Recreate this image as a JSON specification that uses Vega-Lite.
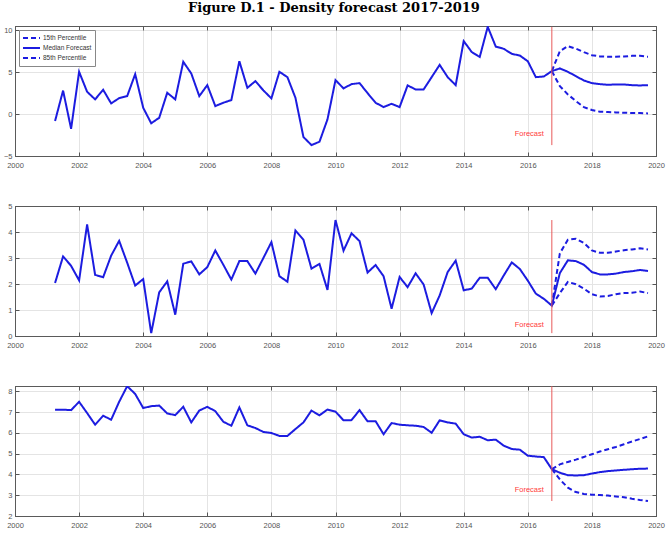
{
  "$schema": "https://vega.github.io/schema/vega-lite/v6.json",
  "padding": {"left": 2, "right": 2, "top": 2, "bottom": 0},
  "background": "white",
  "title": {
    "text": "Figure D.1 - Density forecast 2017-2019",
    "font": "DejaVu Serif",
    "fontSize": 13,
    "fontWeight": "bold",
    "color": "black",
    "anchor": "middle",
    "offset": 10
  },
  "bounds": "flush",
  "spacing": 50,
  "datasets": {
    "panel_top": [
      {"date": 2001.25, "median": -0.83}, {"date": 2001.5, "median": 2.8}, {"date": 2001.75, "median": -1.75},
      {"date": 2002.0, "median": 5.04}, {"date": 2002.25, "median": 2.66}, {"date": 2002.5, "median": 1.75}, {"date": 2002.75, "median": 2.9},
      {"date": 2003.0, "median": 1.27}, {"date": 2003.25, "median": 1.9}, {"date": 2003.5, "median": 2.14}, {"date": 2003.75, "median": 4.76},
      {"date": 2004.0, "median": 0.75}, {"date": 2004.25, "median": -1.1}, {"date": 2004.5, "median": -0.44}, {"date": 2004.75, "median": 2.54},
      {"date": 2005.0, "median": 1.75}, {"date": 2005.25, "median": 6.23}, {"date": 2005.5, "median": 4.84}, {"date": 2005.75, "median": 2.14},
      {"date": 2006.0, "median": 3.45}, {"date": 2006.25, "median": 0.95}, {"date": 2006.5, "median": 1.35}, {"date": 2006.75, "median": 1.67},
      {"date": 2007.0, "median": 6.3}, {"date": 2007.25, "median": 3.13}, {"date": 2007.5, "median": 3.93}, {"date": 2007.75, "median": 2.82},
      {"date": 2008.0, "median": 1.87}, {"date": 2008.25, "median": 5.04}, {"date": 2008.5, "median": 4.4}, {"date": 2008.75, "median": 1.94},
      {"date": 2009.0, "median": -2.74}, {"date": 2009.25, "median": -3.7}, {"date": 2009.5, "median": -3.3}, {"date": 2009.75, "median": -0.63},
      {"date": 2010.0, "median": 4.05}, {"date": 2010.25, "median": 3.06}, {"date": 2010.5, "median": 3.57}, {"date": 2010.75, "median": 3.69},
      {"date": 2011.0, "median": 2.5}, {"date": 2011.25, "median": 1.35}, {"date": 2011.5, "median": 0.83}, {"date": 2011.75, "median": 1.23},
      {"date": 2012.0, "median": 0.83}, {"date": 2012.25, "median": 3.41}, {"date": 2012.5, "median": 2.94}, {"date": 2012.75, "median": 2.94},
      {"date": 2013.0, "median": 4.4}, {"date": 2013.25, "median": 5.87}, {"date": 2013.5, "median": 4.4}, {"date": 2013.75, "median": 3.45},
      {"date": 2014.0, "median": 8.7}, {"date": 2014.25, "median": 7.4}, {"date": 2014.5, "median": 6.8}, {"date": 2014.75, "median": 10.4},
      {"date": 2015.0, "median": 8.05}, {"date": 2015.25, "median": 7.78}, {"date": 2015.5, "median": 7.18}, {"date": 2015.75, "median": 6.98},
      {"date": 2016.0, "median": 6.3}, {"date": 2016.25, "median": 4.4}, {"date": 2016.5, "median": 4.48},
      {"date": 2016.75, "median": 5.12, "lower": 5.12, "upper": 5.12},
      {"date": 2017.0, "median": 5.44, "lower": 3.33, "upper": 7.5},
      {"date": 2017.25, "median": 5.04, "lower": 2.34, "upper": 8.1},
      {"date": 2017.5, "median": 4.52, "lower": 1.55, "upper": 7.8},
      {"date": 2017.75, "median": 4.0, "lower": 0.83, "upper": 7.38},
      {"date": 2018.0, "median": 3.69, "lower": 0.48, "upper": 7.02},
      {"date": 2018.25, "median": 3.57, "lower": 0.28, "upper": 6.87},
      {"date": 2018.5, "median": 3.49, "lower": 0.24, "upper": 6.83},
      {"date": 2018.75, "median": 3.53, "lower": 0.2, "upper": 6.83},
      {"date": 2019.0, "median": 3.53, "lower": 0.16, "upper": 6.87},
      {"date": 2019.25, "median": 3.45, "lower": 0.12, "upper": 6.94},
      {"date": 2019.5, "median": 3.41, "lower": 0.12, "upper": 6.94},
      {"date": 2019.75, "median": 3.45, "lower": 0.08, "upper": 6.83}
    ],
    "panel_mid": [
      {"date": 2001.25, "median": 2.04}, {"date": 2001.5, "median": 3.06}, {"date": 2001.75, "median": 2.7},
      {"date": 2002.0, "median": 2.14}, {"date": 2002.25, "median": 4.29}, {"date": 2002.5, "median": 2.35}, {"date": 2002.75, "median": 2.26},
      {"date": 2003.0, "median": 3.09}, {"date": 2003.25, "median": 3.66}, {"date": 2003.5, "median": 2.82}, {"date": 2003.75, "median": 1.94},
      {"date": 2004.0, "median": 2.19}, {"date": 2004.25, "median": 0.11}, {"date": 2004.5, "median": 1.68}, {"date": 2004.75, "median": 2.1},
      {"date": 2005.0, "median": 0.82}, {"date": 2005.25, "median": 2.78}, {"date": 2005.5, "median": 2.87}, {"date": 2005.75, "median": 2.37},
      {"date": 2006.0, "median": 2.65}, {"date": 2006.25, "median": 3.29}, {"date": 2006.5, "median": 2.74}, {"date": 2006.75, "median": 2.17},
      {"date": 2007.0, "median": 2.88}, {"date": 2007.25, "median": 2.88}, {"date": 2007.5, "median": 2.4}, {"date": 2007.75, "median": 3.0},
      {"date": 2008.0, "median": 3.61}, {"date": 2008.25, "median": 2.3}, {"date": 2008.5, "median": 2.09}, {"date": 2008.75, "median": 4.06},
      {"date": 2009.0, "median": 3.7}, {"date": 2009.25, "median": 2.59}, {"date": 2009.5, "median": 2.77}, {"date": 2009.75, "median": 1.77},
      {"date": 2010.0, "median": 4.46}, {"date": 2010.25, "median": 3.28}, {"date": 2010.5, "median": 3.95}, {"date": 2010.75, "median": 3.65},
      {"date": 2011.0, "median": 2.44}, {"date": 2011.25, "median": 2.73}, {"date": 2011.5, "median": 2.3}, {"date": 2011.75, "median": 1.05},
      {"date": 2012.0, "median": 2.27}, {"date": 2012.25, "median": 1.88}, {"date": 2012.5, "median": 2.41}, {"date": 2012.75, "median": 1.98},
      {"date": 2013.0, "median": 0.88}, {"date": 2013.25, "median": 1.56}, {"date": 2013.5, "median": 2.46}, {"date": 2013.75, "median": 2.9},
      {"date": 2014.0, "median": 1.76}, {"date": 2014.25, "median": 1.82}, {"date": 2014.5, "median": 2.24}, {"date": 2014.75, "median": 2.24},
      {"date": 2015.0, "median": 1.8}, {"date": 2015.25, "median": 2.33}, {"date": 2015.5, "median": 2.83}, {"date": 2015.75, "median": 2.58},
      {"date": 2016.0, "median": 2.13}, {"date": 2016.25, "median": 1.63}, {"date": 2016.5, "median": 1.43},
      {"date": 2016.75, "median": 1.17, "lower": 1.17, "upper": 1.17},
      {"date": 2017.0, "median": 2.42, "lower": 1.65, "upper": 3.18},
      {"date": 2017.25, "median": 2.91, "lower": 2.08, "upper": 3.7},
      {"date": 2017.5, "median": 2.88, "lower": 1.99, "upper": 3.74},
      {"date": 2017.75, "median": 2.74, "lower": 1.82, "upper": 3.58},
      {"date": 2018.0, "median": 2.46, "lower": 1.61, "upper": 3.29},
      {"date": 2018.25, "median": 2.37, "lower": 1.52, "upper": 3.2},
      {"date": 2018.5, "median": 2.37, "lower": 1.54, "upper": 3.2},
      {"date": 2018.75, "median": 2.4, "lower": 1.61, "upper": 3.25},
      {"date": 2019.0, "median": 2.46, "lower": 1.65, "upper": 3.3},
      {"date": 2019.25, "median": 2.49, "lower": 1.66, "upper": 3.33},
      {"date": 2019.5, "median": 2.54, "lower": 1.71, "upper": 3.37},
      {"date": 2019.75, "median": 2.5, "lower": 1.65, "upper": 3.33}
    ],
    "panel_bottom": [
      {"date": 2001.25, "median": 7.11}, {"date": 2001.5, "median": 7.11}, {"date": 2001.75, "median": 7.09},
      {"date": 2002.0, "median": 7.49}, {"date": 2002.25, "median": 6.95}, {"date": 2002.5, "median": 6.39}, {"date": 2002.75, "median": 6.82},
      {"date": 2003.0, "median": 6.63}, {"date": 2003.25, "median": 7.49}, {"date": 2003.5, "median": 8.24}, {"date": 2003.75, "median": 7.87},
      {"date": 2004.0, "median": 7.19}, {"date": 2004.25, "median": 7.28}, {"date": 2004.5, "median": 7.31}, {"date": 2004.75, "median": 6.93},
      {"date": 2005.0, "median": 6.85}, {"date": 2005.25, "median": 7.25}, {"date": 2005.5, "median": 6.5}, {"date": 2005.75, "median": 7.07},
      {"date": 2006.0, "median": 7.25}, {"date": 2006.25, "median": 7.04}, {"date": 2006.5, "median": 6.53}, {"date": 2006.75, "median": 6.34},
      {"date": 2007.0, "median": 7.22}, {"date": 2007.25, "median": 6.36}, {"date": 2007.5, "median": 6.23}, {"date": 2007.75, "median": 6.04},
      {"date": 2008.0, "median": 5.99}, {"date": 2008.25, "median": 5.85}, {"date": 2008.5, "median": 5.85}, {"date": 2008.75, "median": 6.18},
      {"date": 2009.0, "median": 6.5}, {"date": 2009.25, "median": 7.07}, {"date": 2009.5, "median": 6.84}, {"date": 2009.75, "median": 7.12},
      {"date": 2010.0, "median": 7.02}, {"date": 2010.25, "median": 6.6}, {"date": 2010.5, "median": 6.61}, {"date": 2010.75, "median": 7.09},
      {"date": 2011.0, "median": 6.55}, {"date": 2011.25, "median": 6.56}, {"date": 2011.5, "median": 5.93}, {"date": 2011.75, "median": 6.47},
      {"date": 2012.0, "median": 6.39}, {"date": 2012.25, "median": 6.36}, {"date": 2012.5, "median": 6.34}, {"date": 2012.75, "median": 6.28},
      {"date": 2013.0, "median": 6.0}, {"date": 2013.25, "median": 6.6}, {"date": 2013.5, "median": 6.5}, {"date": 2013.75, "median": 6.44},
      {"date": 2014.0, "median": 5.93}, {"date": 2014.25, "median": 5.77}, {"date": 2014.5, "median": 5.81}, {"date": 2014.75, "median": 5.64},
      {"date": 2015.0, "median": 5.67}, {"date": 2015.25, "median": 5.38}, {"date": 2015.5, "median": 5.22}, {"date": 2015.75, "median": 5.19},
      {"date": 2016.0, "median": 4.9}, {"date": 2016.25, "median": 4.86}, {"date": 2016.5, "median": 4.83},
      {"date": 2016.75, "median": 4.25, "lower": 4.25, "upper": 4.25},
      {"date": 2017.0, "median": 4.08, "lower": 3.76, "upper": 4.48},
      {"date": 2017.25, "median": 3.96, "lower": 3.36, "upper": 4.6},
      {"date": 2017.5, "median": 3.95, "lower": 3.15, "upper": 4.71},
      {"date": 2017.75, "median": 3.96, "lower": 3.06, "upper": 4.84},
      {"date": 2018.0, "median": 4.04, "lower": 3.02, "upper": 4.97},
      {"date": 2018.25, "median": 4.11, "lower": 3.01, "upper": 5.1},
      {"date": 2018.5, "median": 4.16, "lower": 2.98, "upper": 5.21},
      {"date": 2018.75, "median": 4.19, "lower": 2.94, "upper": 5.32},
      {"date": 2019.0, "median": 4.22, "lower": 2.9, "upper": 5.45},
      {"date": 2019.25, "median": 4.25, "lower": 2.83, "upper": 5.58},
      {"date": 2019.5, "median": 4.27, "lower": 2.77, "upper": 5.7},
      {"date": 2019.75, "median": 4.28, "lower": 2.72, "upper": 5.83}
    ],
    "forecast_start": [
      {"panel": "top", "date": 2016.75, "low": -3.7, "high": 10.4, "label_at": -2.32, "label": "Forecast"},
      {"panel": "mid", "date": 2016.75, "low": 0.11, "high": 4.46, "label_at": 0.43, "label": "Forecast"},
      {"panel": "bottom", "date": 2016.75, "low": 2.72, "high": 8.24, "label_at": 3.25, "label": "Forecast"}
    ]
  },
  "vconcat": [
    {
      "width": 641,
      "height": 130,
      "resolve": {"axis": {"x": "independent", "y": "independent"}},
      "layer": [
        {
          "data": {"name": "panel_top"},
          "transform": [{"fold": ["lower", "median", "upper"], "as": ["series", "value"]}],
          "mark": {"type": "line", "strokeWidth": 2, "clip": true},
          "encoding": {
            "x": {"field": "date", "type": "quantitative", "scale": {"domain": [2000, 2020], "nice": false, "zero": false},
                  "axis": {"values": [2000, 2002, 2004, 2006, 2008, 2010, 2012, 2014, 2016, 2018, 2020], "format": "d", "labelPadding": 9,
                           "gridOpacity": {"condition": {"test": "datum.value <= 2000 || datum.value >= 2020", "value": 0}, "value": 1}}},
            "y": {"field": "value", "type": "quantitative", "scale": {"domain": [-5, 10.5], "nice": false, "zero": false},
                  "axis": {"values": [-5, 0, 5, 10],
                           "gridOpacity": {"condition": {"test": "datum.value <= -5", "value": 0}, "value": 1}}},
            "color": {"field": "series", "type": "nominal", "title": null,
                      "scale": {"domain": ["lower", "median", "upper"], "range": ["#1c1ce0", "#1c1ce0", "#1c1ce0"]},
                      "legend": {"labelExpr": "datum.label == 'lower' ? '15th Percentile' : datum.label == 'median' ? 'Median Forecast' : '85th Percentile'"}},
            "strokeDash": {"field": "series", "type": "nominal", "title": null,
                           "scale": {"domain": ["lower", "median", "upper"], "range": [[5, 3], [1, 0], [5, 3]]},
                           "legend": {"labelExpr": "datum.label == 'lower' ? '15th Percentile' : datum.label == 'median' ? 'Median Forecast' : '85th Percentile'"}}
          }
        },
        {
          "data": {"name": "forecast_start"},
          "transform": [{"filter": "datum.panel == 'top'"}],
          "mark": {"type": "rule", "color": "#e85a5a", "strokeWidth": 1},
          "encoding": {
            "x": {"field": "date", "type": "quantitative",
                  "axis": {"orient": "top", "labels": false, "grid": false, "values": [2000, 2002, 2004, 2006, 2008, 2010, 2012, 2014, 2016, 2018, 2020]}},
            "y": {"field": "low", "type": "quantitative",
                  "axis": {"orient": "right", "labels": false, "grid": false, "values": [-5, 0, 5, 10]}},
            "y2": {"field": "high"}
          }
        },
        {
          "data": {"name": "forecast_start"},
          "transform": [{"filter": "datum.panel == 'top'"}],
          "mark": {"type": "text", "align": "right", "baseline": "middle", "dx": -8, "color": "#ff3b3b", "font": "Liberation Sans", "fontSize": 7.5},
          "encoding": {
            "x": {"field": "date", "type": "quantitative", "axis": null},
            "y": {"field": "label_at", "type": "quantitative", "axis": null},
            "text": {"field": "label"}
          }
        }
      ]
    },
    {
      "width": 641,
      "height": 130,
      "resolve": {"axis": {"x": "independent", "y": "independent"}},
      "layer": [
        {
          "data": {"name": "panel_mid"},
          "transform": [{"fold": ["lower", "median", "upper"], "as": ["series", "value"]}],
          "mark": {"type": "line", "strokeWidth": 2, "clip": true},
          "encoding": {
            "x": {"field": "date", "type": "quantitative", "scale": {"domain": [2000, 2020], "nice": false, "zero": false},
                  "axis": {"values": [2000, 2002, 2004, 2006, 2008, 2010, 2012, 2014, 2016, 2018, 2020], "format": "d", "labelPadding": 9,
                           "gridOpacity": {"condition": {"test": "datum.value <= 2000 || datum.value >= 2020", "value": 0}, "value": 1}}},
            "y": {"field": "value", "type": "quantitative", "scale": {"domain": [0, 5], "nice": false, "zero": false},
                  "axis": {"values": [0, 1, 2, 3, 4, 5],
                           "gridOpacity": {"condition": {"test": "datum.value <= 0 || datum.value >= 5", "value": 0}, "value": 1}}},
            "color": {"field": "series", "type": "nominal", "legend": null,
                      "scale": {"domain": ["lower", "median", "upper"], "range": ["#1c1ce0", "#1c1ce0", "#1c1ce0"]}},
            "strokeDash": {"field": "series", "type": "nominal", "legend": null,
                           "scale": {"domain": ["lower", "median", "upper"], "range": [[5, 3], [1, 0], [5, 3]]}}
          }
        },
        {
          "data": {"name": "forecast_start"},
          "transform": [{"filter": "datum.panel == 'mid'"}],
          "mark": {"type": "rule", "color": "#e85a5a", "strokeWidth": 1},
          "encoding": {
            "x": {"field": "date", "type": "quantitative",
                  "axis": {"orient": "top", "labels": false, "grid": false, "values": [2000, 2002, 2004, 2006, 2008, 2010, 2012, 2014, 2016, 2018, 2020]}},
            "y": {"field": "low", "type": "quantitative",
                  "axis": {"orient": "right", "labels": false, "grid": false, "values": [0, 1, 2, 3, 4, 5]}},
            "y2": {"field": "high"}
          }
        },
        {
          "data": {"name": "forecast_start"},
          "transform": [{"filter": "datum.panel == 'mid'"}],
          "mark": {"type": "text", "align": "right", "baseline": "middle", "dx": -8, "color": "#ff3b3b", "font": "Liberation Sans", "fontSize": 7.5},
          "encoding": {
            "x": {"field": "date", "type": "quantitative", "axis": null},
            "y": {"field": "label_at", "type": "quantitative", "axis": null},
            "text": {"field": "label"}
          }
        }
      ]
    },
    {
      "width": 641,
      "height": 130,
      "resolve": {"axis": {"x": "independent", "y": "independent"}},
      "layer": [
        {
          "data": {"name": "panel_bottom"},
          "transform": [{"fold": ["lower", "median", "upper"], "as": ["series", "value"]}],
          "mark": {"type": "line", "strokeWidth": 2, "clip": true},
          "encoding": {
            "x": {"field": "date", "type": "quantitative", "scale": {"domain": [2000, 2020], "nice": false, "zero": false},
                  "axis": {"values": [2000, 2002, 2004, 2006, 2008, 2010, 2012, 2014, 2016, 2018, 2020], "format": "d", "labelPadding": 9,
                           "gridOpacity": {"condition": {"test": "datum.value <= 2000 || datum.value >= 2020", "value": 0}, "value": 1}}},
            "y": {"field": "value", "type": "quantitative", "scale": {"domain": [2, 8.25], "nice": false, "zero": false},
                  "axis": {"values": [2, 3, 4, 5, 6, 7, 8],
                           "gridOpacity": {"condition": {"test": "datum.value <= 2", "value": 0}, "value": 1}}},
            "color": {"field": "series", "type": "nominal", "legend": null,
                      "scale": {"domain": ["lower", "median", "upper"], "range": ["#1c1ce0", "#1c1ce0", "#1c1ce0"]}},
            "strokeDash": {"field": "series", "type": "nominal", "legend": null,
                           "scale": {"domain": ["lower", "median", "upper"], "range": [[5, 3], [1, 0], [5, 3]]}}
          }
        },
        {
          "data": {"name": "forecast_start"},
          "transform": [{"filter": "datum.panel == 'bottom'"}],
          "mark": {"type": "rule", "color": "#e85a5a", "strokeWidth": 1},
          "encoding": {
            "x": {"field": "date", "type": "quantitative",
                  "axis": {"orient": "top", "labels": false, "grid": false, "values": [2000, 2002, 2004, 2006, 2008, 2010, 2012, 2014, 2016, 2018, 2020]}},
            "y": {"field": "low", "type": "quantitative",
                  "axis": {"orient": "right", "labels": false, "grid": false, "values": [2, 3, 4, 5, 6, 7, 8]}},
            "y2": {"field": "high"}
          }
        },
        {
          "data": {"name": "forecast_start"},
          "transform": [{"filter": "datum.panel == 'bottom'"}],
          "mark": {"type": "text", "align": "right", "baseline": "middle", "dx": -8, "color": "#ff3b3b", "font": "Liberation Sans", "fontSize": 7.5},
          "encoding": {
            "x": {"field": "date", "type": "quantitative", "axis": null},
            "y": {"field": "label_at", "type": "quantitative", "axis": null},
            "text": {"field": "label"}
          }
        }
      ]
    }
  ],
  "resolve": {"scale": {"x": "independent", "y": "independent", "color": "independent", "strokeDash": "independent"}},
  "config": {
    "view": {"stroke": "#555555", "strokeWidth": 1},
    "axis": {
      "title": null,
      "domain": true,
      "domainColor": "#5a5a5a",
      "domainWidth": 1,
      "grid": true,
      "gridColor": "#e4e4e4",
      "gridWidth": 1,
      "tickColor": "#555555",
      "tickSize": -4,
      "labelPadding": 7,
      "labelOverlap": false,
      "labelFont": "Liberation Sans",
      "labelFontSize": 7.5,
      "labelColor": "#555555",
      "labelFlush": false
    },
    "legend": {
      "orient": "top-left",
      "offset": 4,
      "direction": "vertical",
      "fillColor": "white",
      "strokeColor": "#888888",
      "padding": 3,
      "rowPadding": 0,
      "clipHeight": 10,
      "symbolType": "stroke",
      "symbolSize": 289,
      "symbolStrokeWidth": 2,
      "labelFont": "Liberation Sans",
      "labelFontSize": 6.5,
      "labelColor": "#333333",
      "labelOffset": 2
    }
  }
}
